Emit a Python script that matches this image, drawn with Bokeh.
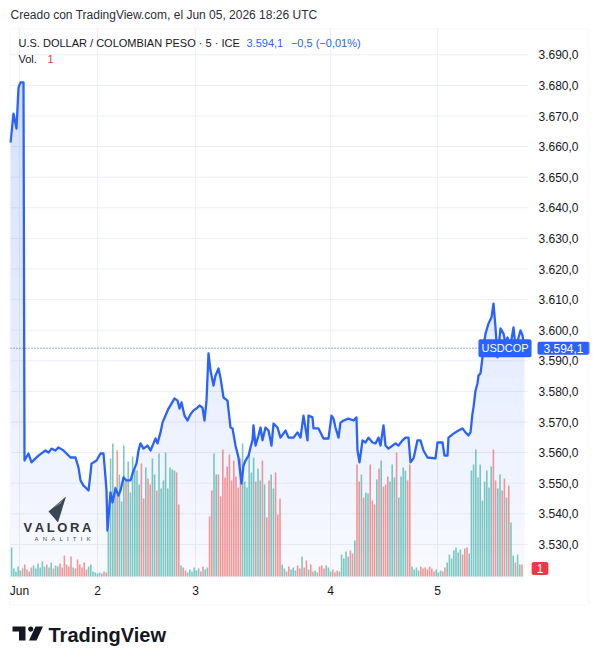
import numpy as np
from bokeh.plotting import figure
from bokeh.models import Range1d, Label, PolyAnnotation
from bokeh.core.properties import value
from bokeh.embed import file_html
from bokeh.resources import INLINE

# ---------------- data ----------------
line_t = [0, 3, 6, 8, 10, 13, 14, 18, 21, 25, 28, 32, 35, 38, 41, 45, 48, 50, 53, 56,
          60, 65, 68, 70, 73, 75, 78, 80, 81, 86, 90, 93, 95, 96, 97, 100, 102, 105, 108, 110,
          113, 116, 120, 123, 126, 128, 130, 133, 137, 140, 143, 145, 147, 150, 152, 155, 158, 161, 164, 167,
          169, 171, 174, 177, 180, 183, 186, 189, 192, 194, 196, 198, 200, 203, 205, 208, 210, 213, 217, 220,
          222, 225, 228, 231, 233, 235, 238, 240, 242, 243, 245, 248, 250, 252, 255, 258, 261, 263, 267, 270,
          275, 278, 283, 287, 290, 293, 297, 298, 302, 303, 308, 313, 318, 321, 323, 325, 328, 330, 333, 338,
          343, 346, 347, 349, 352, 355, 358, 362, 365, 368, 370, 373, 375, 378, 382, 385, 388, 392, 395, 398,
          400, 403, 407, 410, 413, 417, 425, 427, 432, 434, 437, 438, 443, 448, 452, 455, 458, 460, 462, 463,
          465, 467, 468, 470, 472, 473, 475, 478, 481, 483, 485, 487, 490, 493, 495, 497, 500, 503, 505, 508,
          510, 512, 514]
line_price = [3661.3, 3670.8, 3665.9, 3679.3, 3681.0, 3681.0, 3557.4, 3559.7, 3556.8, 3558.1,
              3559.0, 3560.0, 3560.7, 3560.0, 3561.3, 3560.7, 3561.7, 3561.3, 3560.7, 3559.7,
              3558.4, 3558.4, 3555.1, 3550.9, 3549.2, 3548.6, 3547.6, 3553.2, 3556.4, 3557.4,
              3559.7, 3559.7, 3551.9, 3547.6, 3534.5, 3547.0, 3543.7, 3548.3, 3546.0, 3547.6,
              3551.9, 3550.9, 3550.9, 3554.1, 3556.4, 3560.7, 3563.0, 3561.3, 3562.3, 3560.7,
              3563.0, 3564.6, 3563.0, 3566.6, 3569.8, 3572.1, 3574.4, 3576.0, 3577.7, 3577.0,
              3574.4, 3576.4, 3572.1, 3570.5, 3572.5, 3573.8, 3574.4, 3575.4, 3574.7, 3570.5,
              3577.0, 3592.4, 3586.8, 3581.9, 3585.2, 3587.5, 3584.5, 3578.0, 3577.0, 3568.2,
              3567.9, 3562.3, 3558.4, 3549.9, 3555.8, 3557.4, 3559.0, 3561.7, 3564.0, 3568.9,
              3562.3, 3565.6, 3568.2, 3564.0, 3568.2, 3567.2, 3562.3, 3569.5, 3568.2, 3564.9,
              3567.2, 3564.9, 3564.9, 3566.6, 3564.9, 3572.1, 3564.0, 3572.1, 3571.5, 3567.9,
              3567.9, 3564.6, 3564.6, 3572.1, 3571.1, 3568.2, 3564.9, 3569.8, 3570.5, 3571.1,
              3570.5, 3571.5, 3560.7, 3556.8, 3564.0, 3563.3, 3564.9, 3563.3, 3563.0, 3564.9,
              3562.3, 3568.9, 3562.3, 3561.3, 3562.3, 3563.0, 3562.3, 3564.0, 3564.9, 3564.9,
              3556.8, 3558.1, 3564.0, 3564.0, 3560.7, 3558.4, 3558.1, 3563.3, 3563.3, 3559.0,
              3559.0, 3564.9, 3566.2, 3567.2, 3567.9, 3566.6, 3565.6, 3566.6, 3572.8, 3574.7,
              3580.3, 3582.6, 3585.2, 3585.9, 3591.1, 3594.3, 3598.9, 3602.2, 3604.2, 3608.7,
              3600.9, 3591.1, 3600.6, 3598.9, 3595.7, 3597.6, 3595.0, 3600.9, 3594.5, 3597.6,
              3599.9, 3598.3, 3594.1]

volume = [29, 8, 5, 10, 6, 8, 12, 7, 5, 9, 11, 8, 13, 9, 15, 10, 12, 9, 14, 8,
          11, 10, 13, 9, 21, 12, 10, 20, 9, 8, 17, 12, 9, 14, 7, 10, 12, 5, 4, 3,
          4, 3, 5, 4,
          45, 118, 133, 90, 126, 102, 75, 131, 96, 115, 84, 120, 108, 106, 92, 113, 78, 109, 98, 92,
          118, 102, 86, 123, 88, 96, 124, 88, 109, 107, 106, 104, 72,
          11, 9, 6, 4, 7, 5, 9, 6, 8, 5, 10, 7, 9,
          60, 86, 123, 102, 102, 80, 127, 99, 110, 122, 96, 116, 100, 89, 118, 133, 95, 89, 122, 104,
          119, 95, 108, 96, 116, 92, 59, 96, 102, 88, 104, 62, 78,
          12, 8, 5, 10, 7, 9, 6, 11, 8, 20, 9, 16, 7, 12, 5, 6, 4, 10, 11, 8,
          11, 9, 5, 7, 4, 6, 5, 22, 18, 25, 20, 26, 23, 36,
          112, 95, 102, 79, 84, 83, 112, 76, 72, 97, 108, 116, 90, 92, 100, 95, 112, 99, 124, 79,
          100, 109, 106, 96, 112,
          10, 7, 9, 6, 10, 8, 9, 7, 10, 8, 5, 7, 4, 6, 5, 9, 14, 22, 18, 26,
          29, 24, 27, 22, 28, 29, 23,
          106, 112, 127, 99, 112, 76, 95, 106, 89, 110, 127, 96, 88, 102, 86, 98, 79, 91, 54, 21,
          14, 22, 12, 12]

day_ticks = [9, 87, 185, 320, 427]
day_labels = ["Jun", "2", "3", "4", "5"]
price_ticks = [3530, 3540, 3550, 3560, 3570, 3580, 3590, 3600, 3610, 3620,
               3630, 3640, 3650, 3660, 3670, 3680, 3690]
price_tick_labels = ["3.530,0", "3.540,0", "3.550,0", "3.560,0", "3.570,0", "3.580,0",
                     "3.590,0", "3.600,0", "3.610,0", "3.620,0", "3.630,0", "3.640,0",
                     "3.650,0", "3.660,0", "3.670,0", "3.680,0", "3.690,0"]
symbol = "USDCOP"
series_title = "U.S. DOLLAR / COLOMBIAN PESO · 5 · ICE"
header_text = "Creado con TradingView.com, el Jun 05, 2026 18:26 UTC"
last_price = 3594.1
last_change = -0.5
last_change_pct = -0.01
last_volume = 1
bar_slot = 2.2   # time-axis units per 5-minute bar


def es(v, d):
    s = f"{abs(v):,.{d}f}".replace(",", "X").replace(".", ",").replace("X", ".")
    return ("\u2212" if v < 0 else "") + s


# ---------------- layout (page pixels -> data) ----------------
W, H = 598, 664
PL, PT, PR, PB = 10, 28, 528, 578    # price pane on the page
PX = 3.06                            # pixels per price unit
Y_REF, Y_REF_PX = 3690.0, 54.3       # price tick 3.690 sits at this page row
VOL_BASE_PX = 576


def dx(px):
    return px - PL


def dy(py):
    return Y_REF - (py - Y_REF_PX) / PX


FONT = "Liberation Sans"
TXT = "#131722"
BLUE = "#2962ff"
RED = "#f23645"

p = figure(width=W, height=H, x_range=Range1d(dx(0), dx(W)), y_range=Range1d(dy(H), dy(0)),
           output_backend="svg", toolbar_location=None, title=None,
           x_axis_location=None, y_axis_location=None, min_border=0,
           background_fill_color="white", border_fill_color="white", outline_line_color=None)
p.grid.visible = False
p.extra_y_ranges = {"vol": Range1d(VOL_BASE_PX - H, VOL_BASE_PX)}

# grid
p.segment(x0=dx(PL), x1=dx(PR), y0=price_ticks, y1=price_ticks, line_color="#eceff4", line_width=1)
p.segment(x0=day_ticks, x1=day_ticks, y0=dy(PB), y1=dy(PT), line_color="#eceff4", line_width=1)

# gradient area fill (horizontal bands, alpha grows with height)
lt = np.array(line_t, float)
lp = np.array(line_price, float)
band_px = 25
nb = int(round((PB - PT) / band_px))
bounds = [dy(PB - j * band_px) for j in range(nb + 1)]
dense = list(lt)
for i in range(len(lt) - 1):
    p0, p1 = lp[i], lp[i + 1]
    for b in bounds:
        if (p0 - b) * (p1 - b) < 0:
            dense.append(lt[i] + (b - p0) / (p1 - p0) * (lt[i + 1] - lt[i]))
dense_t = np.unique(np.array(dense))
dense_p = np.interp(dense_t, lt, lp)
for j in range(nb):
    lo, hi = bounds[j], bounds[j + 1]
    if not (dense_p > lo).any():
        continue
    a = 0.035 + 0.18 * (j + 0.5) / nb
    p.varea(x=dense_t, y1=lo, y2=np.clip(dense_p, lo, hi), fill_color=BLUE, fill_alpha=a)

# volume bars
vol_t = bar_slot / 2 + bar_slot * np.arange(len(volume))
o = np.interp(vol_t - bar_slot / 2, lt, lp)
c = np.interp(vol_t + bar_slot / 2, lt, lp)
vcol = ["#26a69a" if cc >= oo else "#ef5350" for oo, cc in zip(o, c)]
p.vbar(x=vol_t, top=volume, bottom=0, width=1.6, y_range_name="vol",
       fill_color=vcol, fill_alpha=0.6, line_color=None)

# price line + dotted last-price line
p.line(lt, lp, line_color=BLUE, line_width=2.3, line_join="round")
p.segment(x0=[dx(PL)], x1=[dx(PR)], y0=[last_price], y1=[last_price],
          line_color="#3b5bb8", line_dash="1 2", line_width=1)

# axis tick labels
p.text(x=dx(538), y=price_ticks, text=price_tick_labels, text_font=value(FONT),
       text_font_size="12px", text_color=TXT, text_align="left", text_baseline="middle")
p.text(x=day_ticks, y=dy(590), text=day_labels, text_font=value(FONT),
       text_font_size="12px", text_color=TXT, text_align="center", text_baseline="middle")


def lab(x, y, text, size="12px", color=TXT, align="left", **kw):
    p.add_layout(Label(x=x, y=y, text=text, text_font=kw.pop("font", FONT), text_font_size=size,
                       text_color=color, text_align=align, text_baseline="middle", **kw))


lab(dx(10), dy(14), header_text, "12px", "#2a2e39")
lab(dx(18), dy(42), series_title, "11px")
lab(dx(246), dy(42), f"{es(last_price, 1)}\u2002\u2009{es(last_change, 1)} ({es(last_change_pct, 2)}%)",
    "11px", BLUE)
lab(dx(18), dy(58), "Vol.", "11px")
lab(dx(47), dy(58), str(last_volume), "11px", RED)

# price tags
lab(dx(504.5), last_price, symbol, "11px", "white", "center", background_fill_color=BLUE,
    padding=dict(left=3, right=3, top=3, bottom=3), border_radius=2)
lab(dx(537), last_price, es(last_price, 1), "12px", "white", "left", background_fill_color=BLUE,
    padding=dict(left=6, right=6, top=2, bottom=2), border_radius=2)
lab(dx(539.5), dy(568), str(last_volume), "12px", "white", "center", background_fill_color=RED,
    padding=dict(left=5, right=5, top=2, bottom=2), border_radius=2)

# outer border of the chart box
p.add_layout(PolyAnnotation(xs=[dx(9.5), dx(588.5), dx(588.5), dx(9.5)],
                            ys=[dy(28.5), dy(28.5), dy(604.5), dy(604.5)],
                            fill_alpha=0, line_color="#e0e3eb", line_width=1))

# VALORA ANALITIK watermark
p.add_layout(PolyAnnotation(xs=[dx(48), dx(65.5), dx(57.5)], ys=[dy(511), dy(496), dy(522)],
                            fill_color="#3b4752", fill_alpha=1, line_color=None))
p.add_layout(PolyAnnotation(xs=[dx(52), dx(63), dx(60)], ys=[dy(508), dy(499), dy(503)],
                            fill_color="#8a96a3", fill_alpha=1, line_color=None))
lab(dx(57), dy(527), "\u2009".join("VALORA"), "13px", "#30343a", "center", text_font_style="bold")
lab(dx(62), dy(538), "\u2002\u2009".join("ANALITIK"), "6px", "#4a4f57", "center")

# TradingView logo
p.add_layout(PolyAnnotation(xs=[dx(12), dx(25), dx(25), dx(18.5), dx(18.5), dx(12)],
                            ys=[dy(626), dy(626), dy(640), dy(640), dy(631), dy(631)],
                            fill_color="#131722", fill_alpha=1, line_color=None))
ang = np.linspace(0, 2 * np.pi, 20)
p.add_layout(PolyAnnotation(xs=list(dx(30.2) + 2.6 * np.cos(ang)),
                            ys=list(dy(628.6) + 2.6 / PX * np.sin(ang)),
                            fill_color="#131722", fill_alpha=1, line_color=None))
p.add_layout(PolyAnnotation(xs=[dx(35), dx(42.5), dx(36), dx(28.5)],
                            ys=[dy(626), dy(626), dy(640), dy(640)],
                            fill_color="#131722", fill_alpha=1, line_color=None))
lab(dx(48), dy(634), "TradingView", "20px", "#131722", "left", text_font_style="bold")

open("out.html", "w").write(file_html(p, INLINE))
